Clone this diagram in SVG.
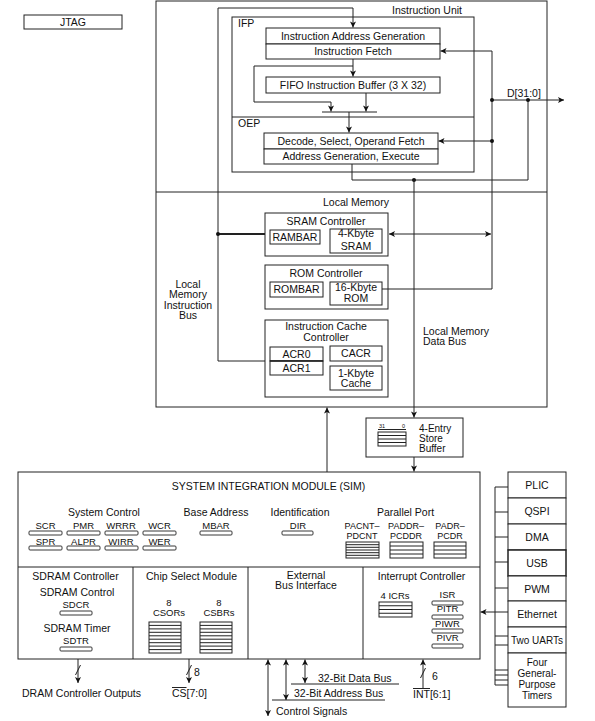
<svg xmlns="http://www.w3.org/2000/svg" width="595" height="721" viewBox="0 0 595 721">
<defs>
<style>
text{font-family:"Liberation Sans",Arial,sans-serif;font-size:10.5px;fill:#111}
.m{text-anchor:middle}
.s{font-size:9.5px}
.p{font-size:9px}
.xs{font-size:5.5px}
.b{fill:#fff;stroke:#222;stroke-width:1}
.l{fill:none;stroke:#222;stroke-width:1}
.r{fill:#fff;stroke:#222;stroke-width:0.9}
.a{marker-end:url(#ah)}
.d{marker-start:url(#ah);marker-end:url(#ah)}
.dot{fill:#111}
</style>
<marker id="ah" viewBox="0 0 10 10" refX="10" refY="5" markerWidth="7" markerHeight="6" markerUnits="userSpaceOnUse" orient="auto-start-reverse"><path d="M0,0 L10,5 L0,10 L2.5,5 z" fill="#111"/></marker>
</defs>
<rect width="595" height="721" fill="#fff"/>

<g id="jtag"><rect class="b" x="24" y="15" width="98" height="14"/><text class="m" x="73" y="25.5">JTAG</text></g>

<g id="core">
<rect class="b" x="156" y="1" width="391" height="406"/>
<line class="l" x1="156" y1="192" x2="547" y2="192"/>
<text class="m" x="427" y="14">Instruction Unit</text>
</g>

<g id="ifp-oep">
<rect class="b" x="232" y="17" width="242" height="155"/>
<line class="l" x1="232" y1="117" x2="474" y2="117"/>
<text x="238" y="27">IFP</text>
<text x="238" y="127">OEP</text>
</g>
<g id="iag"><rect class="b" x="266" y="28" width="174" height="16"/><text class="m" x="353" y="39.5">Instruction Address Generation</text></g>
<g id="ifetch"><rect class="b" x="266" y="44" width="174" height="15"/><text class="m" x="353" y="55">Instruction Fetch</text></g>
<g id="fifo"><rect class="b" x="266" y="77" width="174" height="16"/><text class="m" x="353" y="88.5">FIFO Instruction Buffer (3 X 32)</text></g>
<g id="decode"><rect class="b" x="264" y="133" width="174" height="16"/><text class="m" x="351" y="144.5">Decode, Select, Operand Fetch</text></g>
<g id="execute"><rect class="b" x="264" y="149" width="174" height="15"/><text class="m" x="351" y="160">Address Generation, Execute</text></g>

<g id="local-memory">
<text class="m" x="356" y="205.5">Local Memory</text>
<text class="m" x="188" y="287.5">Local</text>
<text class="m" x="188" y="298">Memory</text>
<text class="m" x="188" y="308.5">Instruction</text>
<text class="m" x="188" y="319">Bus</text>
<text x="423" y="334.5">Local Memory</text>
<text x="423" y="345">Data Bus</text>
</g>
<g id="sram">
<rect class="b" x="265" y="213" width="123" height="43"/>
<text class="m" x="326" y="224.5">SRAM Controller</text>
<rect class="b" x="270" y="230" width="50" height="14"/><text class="m" x="295" y="240.5">RAMBAR</text>
<rect class="b" x="330" y="229" width="52" height="24"/><text class="m" x="356" y="237">4-Kbyte</text><text class="m" x="356" y="249.5">SRAM</text>
</g>
<g id="rom">
<rect class="b" x="265" y="265" width="123" height="44"/>
<text class="m" x="326" y="276.5">ROM Controller</text>
<rect class="b" x="270" y="282" width="53" height="15"/><text class="m" x="296.5" y="293">ROMBAR</text>
<rect class="b" x="330" y="282" width="52" height="23"/><text class="m" x="356" y="291">16-Kbyte</text><text class="m" x="356" y="302">ROM</text>
</g>
<g id="icache">
<rect class="b" x="265" y="320" width="123" height="77"/>
<text class="m" x="326" y="329.5">Instruction Cache</text>
<text class="m" x="326" y="341">Controller</text>
<rect class="b" x="270" y="347" width="53" height="14"/><text class="m" x="296.5" y="357.5">ACR0</text>
<rect class="b" x="270" y="361" width="53" height="14"/><line x1="270" y1="361" x2="323" y2="361" stroke="#222" stroke-width="1.6"/><text class="m" x="296.5" y="371.5">ACR1</text>
<rect class="b" x="330" y="346" width="52" height="15"/><text class="m" x="356" y="357">CACR</text>
<rect class="b" x="330" y="366" width="52" height="24"/><text class="m" x="356" y="376.5">1-Kbyte</text><text class="m" x="356" y="387">Cache</text>
</g>

<g id="store-buffer">
<rect class="b" x="366" y="418" width="97" height="39"/>
<text class="xs" x="379" y="428">31</text><text class="xs" x="402" y="428">0</text>
<line class="l" x1="378" y1="429.5" x2="406" y2="429.5"/>
<rect class="b" x="378" y="432" width="28" height="14"/>
<path class="l" d="M378,435.5H406M378,439H406M378,442.5H406"/>
<text x="419" y="431.5" style="font-size:10px">4-Entry</text>
<text x="419" y="441.5" style="font-size:10px">Store</text>
<text x="419" y="451.5" style="font-size:10px">Buffer</text>
</g>

<g id="sim">
<rect class="b" x="18" y="472" width="462" height="187"/>
<line class="l" x1="18" y1="567" x2="480" y2="567"/>
<path class="l" d="M133,567V659M248,567V659M363,567V659"/>
<text class="m" x="268.5" y="489.5">SYSTEM INTEGRATION MODULE (SIM)</text>
</g>
<g id="system-control">
<text class="m" x="104" y="515.5">System Control</text>
<text class="m s" x="45.5" y="528.5">SCR</text><text class="m s" x="83.5" y="528.5">PMR</text><text class="m s" x="121" y="528.5">WRRR</text><text class="m s" x="159.5" y="528.5">WCR</text>
<rect class="r" x="29" y="531" width="33" height="4" rx="1"/><rect class="r" x="67" y="531" width="33" height="4" rx="1"/><rect class="r" x="105" y="531" width="33" height="4" rx="1"/><rect class="r" x="143" y="531" width="33" height="4" rx="1"/>
<text class="m s" x="45.5" y="544.5">SPR</text><text class="m s" x="83.5" y="544.5">ALPR</text><text class="m s" x="121" y="544.5">WIRR</text><text class="m s" x="159.5" y="544.5">WER</text>
<rect class="r" x="29" y="546" width="33" height="4" rx="1"/><rect class="r" x="67" y="546" width="33" height="4" rx="1"/><rect class="r" x="105" y="546" width="33" height="4" rx="1"/><rect class="r" x="143" y="546" width="33" height="4" rx="1"/>
</g>
<g id="base-address">
<text class="m" x="216" y="515.5">Base Address</text>
<text class="m s" x="216" y="528.5">MBAR</text>
<rect class="r" x="200" y="531" width="32" height="4" rx="1"/>
</g>
<g id="identification">
<text class="m" x="300" y="515.5">Identification</text>
<text class="m s" x="298" y="528.5">DIR</text>
<rect class="r" x="282" y="531" width="31" height="4" rx="1"/>
</g>
<g id="parallel-port">
<text class="m" x="405.5" y="515.5">Parallel Port</text>
<text class="m p" x="362" y="529">PACNT–</text><text class="m p" x="362" y="538.5">PDCNT</text>
<text class="m p" x="406" y="529">PADDR–</text><text class="m p" x="406" y="538.5">PCDDR</text>
<text class="m p" x="450" y="529">PADR–</text><text class="m p" x="450" y="538.5">PCDR</text>
<rect class="b" x="346" y="542" width="33" height="16"/>
<path class="l" d="M346,544.7H379M346,547.3H379M346,550H379M346,552.7H379M346,555.3H379"/>
<rect class="b" x="390" y="542" width="33" height="16"/>
<path class="l" d="M390,546H423M390,550H423M390,554H423"/>
<rect class="b" x="434" y="542" width="32" height="16"/>
<path class="l" d="M434,546H466M434,550H466M434,554H466"/>
</g>
<g id="sdram">
<text class="m" x="75.5" y="579.5">SDRAM Controller</text>
<text class="m" x="77" y="595.5">SDRAM Control</text>
<text class="m s" x="76" y="607.5">SDCR</text>
<rect class="r" x="60" y="611" width="32" height="4" rx="1"/>
<text class="m" x="77" y="631.5">SDRAM Timer</text>
<text class="m s" x="76" y="643.5">SDTR</text>
<rect class="r" x="60" y="647" width="32" height="4" rx="1"/>
</g>
<g id="chip-select">
<text class="m" x="191.5" y="579.5">Chip Select Module</text>
<text class="m s" x="169" y="606">8</text><text class="m s" x="169" y="616">CSORs</text>
<text class="m s" x="219" y="606">8</text><text class="m s" x="219" y="616">CSBRs</text>
<rect class="b" x="149" y="622" width="32" height="31"/>
<path class="l" d="M149,625.4H181M149,628.9H181M149,632.3H181M149,635.8H181M149,639.2H181M149,642.7H181M149,646.1H181M149,649.6H181"/>
<rect class="b" x="200" y="622" width="32" height="31"/>
<path class="l" d="M200,625.4H232M200,628.9H232M200,632.3H232M200,635.8H232M200,639.2H232M200,642.7H232M200,646.1H232M200,649.6H232"/>
</g>
<g id="external-bus">
<text class="m" x="306" y="578.5">External</text>
<text class="m" x="306" y="589">Bus Interface</text>
</g>
<g id="interrupt">
<text class="m" x="421.5" y="579.5">Interrupt Controller</text>
<text class="m s" x="395" y="598.5">4 ICRs</text>
<rect class="b" x="379" y="602" width="33" height="15"/>
<path class="l" d="M379,605.75H412M379,609.5H412M379,613.25H412"/>
<text class="m s" x="447.5" y="598">ISR</text>
<rect class="r" x="432" y="601" width="31" height="4" rx="1"/>
<text class="m s" x="447.5" y="612">PITR</text>
<rect class="r" x="432" y="615" width="31" height="4" rx="1"/>
<text class="m s" x="447.5" y="626.5">PIWR</text>
<rect class="r" x="432" y="629" width="31" height="4" rx="1"/>
<text class="m s" x="447.5" y="641">PIVR</text>
<rect class="r" x="432" y="644" width="31" height="4" rx="1"/>
</g>

<g id="peripherals">
<g id="plic"><rect class="b" x="508" y="472" width="58" height="26"/><text class="m" x="537" y="489">PLIC</text></g>
<g id="qspi"><rect class="b" x="508" y="498" width="58" height="26"/><text class="m" x="537" y="515">QSPI</text></g>
<g id="dma"><rect class="b" x="508" y="524" width="58" height="26"/><text class="m" x="537" y="541">DMA</text></g>
<g id="usb"><rect class="b" x="508" y="550" width="58" height="26" style="stroke-width:1.5"/><text class="m" x="537" y="567">USB</text></g>
<g id="pwm"><rect class="b" x="508" y="576" width="58" height="25"/><text class="m" x="537" y="592.5">PWM</text></g>
<g id="ethernet"><rect class="b" x="508" y="601" width="58" height="26"/><text class="m" x="537" y="618">Ethernet</text></g>
<g id="uarts"><rect class="b" x="508" y="627" width="58" height="26"/><text class="m" x="537" y="644" style="font-size:10px">Two UARTs</text></g>
<g id="timers"><rect class="b" x="508" y="653" width="58" height="54"/>
<text class="m" x="537" y="666" style="font-size:10px">Four</text><text class="m" x="537" y="676.5" style="font-size:10px">General-</text><text class="m" x="537" y="687.5" style="font-size:10px">Purpose</text><text class="m" x="537" y="699" style="font-size:10px">Timers</text></g>
</g>

<g id="labels">
<text x="507" y="96.5">D[31:0]</text>
<text class="m" x="81.5" y="696.5">DRAM Controller Outputs</text>
<text x="172" y="696.5">CS[7:0]</text>
<line class="l" x1="172" y1="687.5" x2="186.5" y2="687.5"/>
<text x="194" y="676">8</text>
<text x="432" y="679.5">6</text>
<text x="413" y="697.5">INT[6:1]</text>
<line class="l" x1="413" y1="688.5" x2="430" y2="688.5"/>
<text x="318" y="681.5">32-Bit Data Bus</text>
<text x="294" y="697">32-Bit Address Bus</text>
<text x="276" y="714.5">Control Signals</text>
</g>

<g id="connectors">
<path class="l a" d="M218,361V8H353V27.5"/>
<line x1="218" y1="234" x2="265" y2="234" stroke="#222" stroke-width="2"/>
<line class="l" x1="218" y1="361" x2="265" y2="361"/>
<circle class="dot" cx="218" cy="234" r="2"/>
<path class="l a" d="M353,59V76.5"/>
<path class="l a" d="M353,66H254V102H331V111.5"/>
<path class="l a" d="M366,93V111.5"/>
<line class="l" x1="322" y1="112" x2="377" y2="112"/>
<path class="l a" d="M349,112V132.5"/>
<path class="l a" d="M492,289V51H440.5"/>
<line class="l a" x1="492" y1="141" x2="438.5" y2="141"/>
<line class="l" x1="492" y1="289" x2="382" y2="289"/>
<line class="l d" x1="389" y1="234" x2="491" y2="234"/>
<line class="l a" x1="492" y1="100" x2="564" y2="100"/>
<path class="l" d="M352,164V180H528V100"/>
<circle class="dot" cx="492" cy="100" r="2"/>
<circle class="dot" cx="528" cy="100" r="2"/>
<circle class="dot" cx="492" cy="141" r="2"/>
<circle class="dot" cx="414" cy="180" r="2"/>
<line class="l a" x1="414" y1="180" x2="414" y2="417.5"/>
<line class="l a" x1="414" y1="457" x2="414" y2="471.5"/>
<line class="l a" x1="327" y1="472" x2="327" y2="407.5"/>
<line class="l" x1="495" y1="487" x2="495" y2="685"/>
<path class="l" d="M495,487H508M495,512H508M495,537H508M495,562H508M495,588H508M495,612H508M495,636H508M495,645H508M495,670H508M495,675H508M495,680H508M495,685H508"/>
<line class="l a" x1="495" y1="612" x2="480.5" y2="612"/>
<line class="l a" x1="78" y1="659" x2="78" y2="683"/>
<line class="l" x1="80.5" y1="665" x2="75.5" y2="675"/>
<line class="l a" x1="189" y1="659" x2="189" y2="683"/>
<line class="l" x1="191.5" y1="665" x2="186.5" y2="675"/>
<line class="l a" x1="423" y1="689" x2="423" y2="659.5"/>
<line class="l" x1="420.5" y1="678" x2="425.5" y2="668"/>
<line class="l d" x1="268" y1="659.5" x2="268" y2="716"/>
<line class="l d" x1="286" y1="659.5" x2="286" y2="700"/>
<line class="l d" x1="305" y1="659.5" x2="305" y2="683"/>
<line class="l" x1="291" y1="684" x2="399" y2="684"/>
<line class="l" x1="272" y1="700" x2="385" y2="700"/>
</g>
</svg>
